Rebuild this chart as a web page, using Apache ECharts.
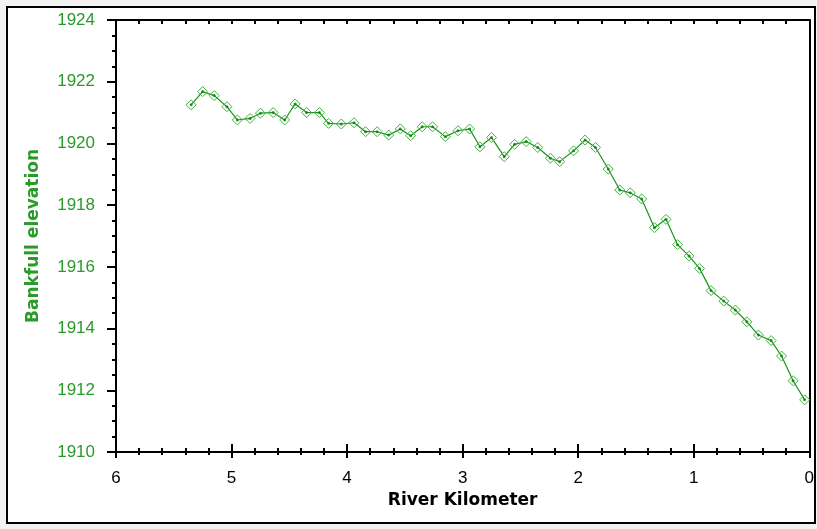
<!DOCTYPE html>
<html>
<head>
<meta charset="utf-8">
<script src="https://cdn.jsdelivr.net/npm/echarts@6/dist/echarts.min.js"></script>
<style>
  html, body { margin: 0; padding: 0; background: #f2f2f2; }
  #chart { width: 817px; height: 529px; }
</style>
</head>
<body>
<div id="chart"></div>
<script>
// River kilometer of each surveyed cross-section (upstream to downstream)
const riverKm = [
  5.35, 5.25, 5.15, 5.04, 4.95, 4.84, 4.75, 4.64, 4.54, 4.45,
  4.35, 4.24, 4.16, 4.05, 3.94, 3.84, 3.74, 3.64, 3.54, 3.45,
  3.35, 3.26, 3.15, 3.04, 2.94, 2.85, 2.75, 2.64, 2.55, 2.45,
  2.35, 2.24, 2.16, 2.04, 1.94, 1.85, 1.74, 1.64, 1.55, 1.45,
  1.34, 1.24, 1.14, 1.04, 0.95, 0.85, 0.74, 0.64, 0.54, 0.44,
  0.33, 0.24, 0.14, 0.04
];
// Bankfull elevation at each cross-section
const bankfullElevation = [
  1921.25, 1921.68, 1921.55, 1921.19, 1920.76, 1920.81, 1920.98, 1921.00, 1920.76, 1921.28,
  1921.00, 1921.00, 1920.65, 1920.63, 1920.67, 1920.38, 1920.38, 1920.27, 1920.47, 1920.25,
  1920.54, 1920.54, 1920.22, 1920.41, 1920.47, 1919.89, 1920.19, 1919.57, 1919.97, 1920.06,
  1919.87, 1919.52, 1919.41, 1919.76, 1920.11, 1919.87, 1919.17, 1918.49, 1918.40, 1918.20,
  1917.27, 1917.54, 1916.72, 1916.35, 1915.95, 1915.23, 1914.89, 1914.60, 1914.22, 1913.79,
  1913.61, 1913.11, 1912.31, 1911.69
];
const xTicks = { min: 0, max: 6, step: 1, minorSplit: 5 };
const yTicks = { min: 1910, max: 1924, step: 2, minorSplit: 4 };

const xLabel = 'River Kilometer';
const yLabel = 'Bankfull elevation';

const green = '#2a9a2a';
const lineGreen = '#1a941a';
const markerGreen = '#3fb23f';
const tickFont = 'Liberation Sans, Arial, sans-serif';
const titleFont = 'DejaVu Sans, Verdana, sans-serif';

const points = riverKm.map((km, i) => [km, bankfullElevation[i]]);

const blackLine = { show: true, onZero: false, lineStyle: { color: '#000', width: 2 } };
const plainNumber = v => String(v);

const chart = echarts.init(document.getElementById('chart'), null, { renderer: 'canvas' });
chart.setOption({
  backgroundColor: '#f2f2f2',
  animation: false,
  graphic: [{
    type: 'rect',
    shape: { x: 7, y: 7, width: 808, height: 516 },
    style: { fill: '#fff', stroke: '#000', lineWidth: 2 },
    z: -10
  }],
  grid: { left: 116, right: 5, top: 20, bottom: 77, containLabel: false },
  xAxis: [
    {
      type: 'value', position: 'bottom', inverse: true,
      min: xTicks.min, max: xTicks.max, interval: xTicks.step,
      axisLine: blackLine,
      axisTick: { show: true, inside: false, length: 6, lineStyle: { color: '#000', width: 2 } },
      minorTick: { show: true, splitNumber: xTicks.minorSplit, length: 3, lineStyle: { color: '#000', width: 2 } },
      axisLabel: { color: '#000', fontFamily: tickFont, fontSize: 17, margin: 18, formatter: plainNumber },
      splitLine: { show: false },
      name: xLabel, nameLocation: 'middle', nameGap: 30,
      nameTextStyle: { color: '#000', fontFamily: titleFont, fontWeight: 'bold', fontSize: 17 }
    },
    {
      type: 'value', position: 'bottom', inverse: true,
      min: xTicks.min, max: xTicks.max, interval: xTicks.step,
      axisLine: blackLine,
      axisTick: { show: true, inside: true, length: 8, lineStyle: { color: '#000', width: 2 } },
      minorTick: { show: true, splitNumber: xTicks.minorSplit, length: 4, lineStyle: { color: '#000', width: 2 } },
      axisLabel: { show: false },
      splitLine: { show: false }
    },
    {
      type: 'value', position: 'top', inverse: true,
      min: xTicks.min, max: xTicks.max, interval: xTicks.step,
      axisLine: blackLine,
      axisTick: { show: true, inside: true, length: 4, lineStyle: { color: '#000', width: 2 } },
      minorTick: { show: true, splitNumber: xTicks.minorSplit, length: 4, lineStyle: { color: '#000', width: 2 } },
      axisLabel: { show: false },
      splitLine: { show: false }
    }
  ],
  yAxis: [
    {
      type: 'value', position: 'left',
      min: yTicks.min, max: yTicks.max, interval: yTicks.step,
      axisLine: blackLine,
      axisTick: { show: true, inside: false, length: 9, lineStyle: { color: '#000', width: 2 } },
      minorTick: { show: true, splitNumber: yTicks.minorSplit, length: 4, lineStyle: { color: '#000', width: 2 } },
      axisLabel: { color: green, fontFamily: tickFont, fontSize: 17, margin: 21, formatter: plainNumber },
      splitLine: { show: false },
      name: yLabel, nameLocation: 'middle', nameGap: 74,
      nameTextStyle: { color: green, fontFamily: titleFont, fontWeight: 'bold', fontSize: 17 }
    },
    {
      type: 'value', position: 'right',
      min: yTicks.min, max: yTicks.max, interval: yTicks.step,
      axisLine: blackLine,
      axisTick: { show: false },
      axisLabel: { show: false },
      splitLine: { show: false }
    }
  ],
  series: [
    {
      type: 'line',
      xAxisIndex: 0, yAxisIndex: 0,
      data: points,
      lineStyle: { color: lineGreen, width: 1.2 },
      symbol: 'diamond',
      symbolSize: 10,
      itemStyle: { color: 'rgba(0,0,0,0)', borderColor: markerGreen, borderWidth: 1 },
      z: 3
    },
    {
      type: 'scatter',
      xAxisIndex: 0, yAxisIndex: 0,
      data: points,
      symbol: 'circle',
      symbolSize: 3,
      itemStyle: { color: '#0a7a0a' },
      silent: true,
      z: 4
    }
  ]
});
</script>
</body>
</html>
